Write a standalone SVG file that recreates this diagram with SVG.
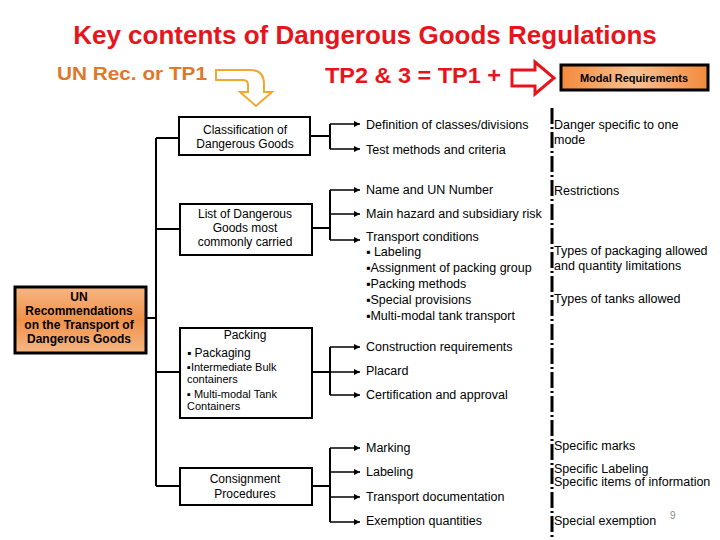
<svg xmlns="http://www.w3.org/2000/svg" width="720" height="540" viewBox="0 0 720 540">
<defs>
<linearGradient id="og" x1="0" y1="0" x2="0" y2="1"><stop offset="0" stop-color="#f7b784"/><stop offset="0.5" stop-color="#f0914a"/><stop offset="1" stop-color="#f7b784"/></linearGradient>
<linearGradient id="og2" x1="0" y1="0" x2="1" y2="0"><stop offset="0" stop-color="#f28a3c"/><stop offset="0.5" stop-color="#f9c090"/><stop offset="1" stop-color="#f28a3c"/></linearGradient>
<marker id="ah" viewBox="0 0 6 6" refX="6" refY="3" markerWidth="6" markerHeight="6" markerUnits="userSpaceOnUse" orient="auto"><path d="M0,0 L6,3 L0,6 z" fill="#000"/></marker>
<style>
.t{font-family:"Liberation Sans",Arial,sans-serif;font-size:12.5px;fill:#000}
.s{font-family:"Liberation Sans",Arial,sans-serif;font-size:12px;fill:#000}
.p{font-family:"Liberation Sans",Arial,sans-serif;font-size:11px;fill:#000}
.b{fill:#fff;stroke:#000;stroke-width:2}
.c{fill:none;stroke:#000;stroke-width:2}
.a{fill:none;stroke:#000;stroke-width:1.5;marker-end:url(#ah)}
</style>
</defs>
<text x="365" y="44" text-anchor="middle" style="font-family:'Liberation Sans',Arial,sans-serif;font-size:26px;font-weight:bold;fill:#e8141c">Key contents of Dangerous Goods Regulations</text>
<text x="57" y="80" textLength="150" lengthAdjust="spacingAndGlyphs" style="font-family:'Liberation Sans',sans-serif;font-size:19px;font-weight:bold;fill:#e07828">UN  Rec. or TP1</text>
<text x="325" y="83" textLength="176" lengthAdjust="spacingAndGlyphs" style="font-family:'Liberation Sans',sans-serif;font-size:22px;font-weight:bold;fill:#e8141c">TP2 &amp; 3 = TP1 +</text>
<path d="M216,70 H250 Q264,70 264,84 V92 H272 L256,106 L240,92 H248 V85 Q248,80 243,80 H216 Z" fill="#fff" stroke="#f0a830" stroke-width="2"/>
<path d="M512,70 H535 V62 L554,78 L535,94 V86 H512 Z" fill="#fff" stroke="#e8141c" stroke-width="3"/>
<g id="modal"><rect x="561" y="65" width="147" height="25" fill="url(#og2)" stroke="#000" stroke-width="3"/><text class="s" x="634" y="82" text-anchor="middle" style="font-size:11px;font-weight:bold">Modal Requirements</text></g>
<g id="connectors">
<path class="c" d="M146,318 H156 M156,138 V486 M156,138 H178 M156,229 H180 M156,372 H180 M156,486 H180"/>
<path class="c" d="M310,136 H330 M330,124 V149 M312,228 H330 M330,190 V240 M312,372 H330 M330,347 V395 M312,486 H330 M330,448 V522"/>
<line class="a" x1="330" y1="124" x2="360" y2="124"/>
<line class="a" x1="330" y1="149" x2="360" y2="149"/>
<line class="a" x1="330" y1="190" x2="360" y2="190"/>
<line class="a" x1="330" y1="214" x2="360" y2="214"/>
<line class="a" x1="330" y1="240" x2="360" y2="240"/>
<line class="a" x1="330" y1="347" x2="360" y2="347"/>
<line class="a" x1="330" y1="372" x2="360" y2="372"/>
<line class="a" x1="330" y1="395" x2="360" y2="395"/>
<line class="a" x1="330" y1="448" x2="360" y2="448"/>
<line class="a" x1="330" y1="472" x2="360" y2="472"/>
<line class="a" x1="330" y1="497" x2="360" y2="497"/>
<line class="a" x1="330" y1="522" x2="360" y2="522"/>
<line x1="552" y1="108" x2="552" y2="540" stroke="#000" stroke-width="3" stroke-dasharray="16,3,2,3"/>
</g>
<g id="un"><rect x="15" y="287" width="131" height="66" fill="url(#og)" stroke="#000" stroke-width="3"/>
<text class="s" text-anchor="middle" x="79" y="301" style="font-weight:bold">UN<tspan x="79" dy="14">Recommendations</tspan><tspan x="79" dy="14">on the Transport of</tspan><tspan x="79" dy="14">Dangerous Goods</tspan></text></g>
<g id="classification"><rect class="b" x="179" y="117" width="131" height="38"/><text class="s" text-anchor="middle" x="245" y="134">Classification of<tspan x="245" dy="14">Dangerous Goods</tspan></text></g>
<g id="list"><rect class="b" x="180" y="204" width="132" height="51"/><text class="s" text-anchor="middle" x="245" y="218">List of Dangerous<tspan x="245" dy="14">Goods most</tspan><tspan x="245" dy="14">commonly carried</tspan></text></g>
<g id="packing"><rect class="b" x="180" y="328" width="132" height="90"/><text class="s" text-anchor="middle" x="245" y="339">Packing</text>
<text class="s" x="187" y="357">▪ Packaging</text><text class="p" x="187" y="371">▪Intermediate Bulk</text><text class="p" x="187" y="383">containers</text><text class="p" x="187" y="398">▪ Multi-modal Tank</text><text class="p" x="187" y="410">Containers</text></g>
<g id="consignment"><rect class="b" x="180" y="468" width="132" height="37"/><text class="s" text-anchor="middle" x="245" y="483">Consignment<tspan x="245" dy="15">Procedures</tspan></text></g>
<g id="items">
<text class="t" x="366" y="129">Definition of classes/divisions</text>
<text class="t" x="366" y="154">Test methods and criteria</text>
<text class="t" x="366" y="194">Name and UN Number</text>
<text class="t" x="366" y="218">Main hazard and subsidiary risk</text>
<text class="t" x="366" y="241">Transport conditions</text>
<text class="t" x="366" y="256">▪ Labeling</text>
<text class="t" x="366" y="272">▪Assignment of packing group</text>
<text class="t" x="366" y="288">▪Packing methods</text>
<text class="t" x="366" y="304">▪Special provisions</text>
<text class="t" x="366" y="320">▪Multi-modal tank transport</text>
<text class="t" x="366" y="351">Construction requirements</text>
<text class="t" x="366" y="375">Placard</text>
<text class="t" x="366" y="399">Certification and approval</text>
<text class="t" x="366" y="452">Marking</text>
<text class="t" x="366" y="476">Labeling</text>
<text class="t" x="366" y="501">Transport documentation</text>
<text class="t" x="366" y="525">Exemption quantities</text>
</g>
<g id="modal-items">
<text class="t" x="554" y="129">Danger specific to one</text>
<text class="t" x="554" y="144">mode</text>
<text class="t" x="554" y="195">Restrictions</text>
<text class="t" x="554" y="255">Types of packaging allowed</text>
<text class="t" x="554" y="270">and quantity limitations</text>
<text class="t" x="554" y="303">Types of tanks allowed</text>
<text class="t" x="554" y="450">Specific marks</text>
<text class="t" x="554" y="473">Specific Labeling</text>
<text class="t" x="554" y="486">Specific items of information</text>
<text class="t" x="554" y="525">Special exemption</text>
<text x="670" y="519" style="font-family:'Liberation Sans',Arial,sans-serif;font-size:10px;fill:#888">9</text>
</g>
</svg>
